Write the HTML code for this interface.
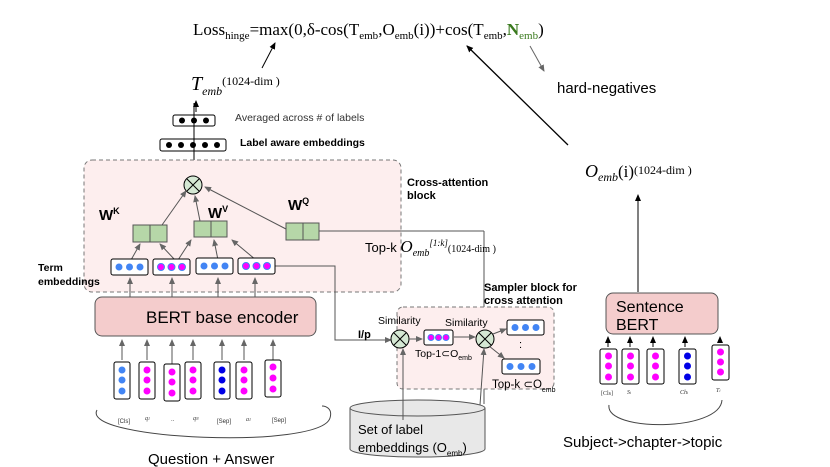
<!DOCTYPE html>
<html><head><meta charset="utf-8"><style>
body{margin:0;background:#fff}
svg{display:block;font-family:"Liberation Sans",sans-serif}
.s{font-family:"Liberation Serif",serif}
</style></head><body>
<svg width="830" height="467" viewBox="0 0 830 467">
<defs>
<marker id="a" markerWidth="8" markerHeight="8" refX="6" refY="3" orient="auto" markerUnits="userSpaceOnUse"><path d="M0,0 L7,3 L0,6z" fill="#000"/></marker>
<marker id="g" markerWidth="8" markerHeight="8" refX="6" refY="3" orient="auto" markerUnits="userSpaceOnUse"><path d="M0,0 L7,3 L0,6z" fill="#666"/></marker>
</defs>
<!-- Loss -->
<text class="s" x="193" y="35" font-size="17">Loss<tspan font-size="11" dy="4">hinge</tspan><tspan dy="-4">=max(0,δ-cos(T</tspan><tspan font-size="11" dy="4">emb</tspan><tspan dy="-4">,O</tspan><tspan font-size="11" dy="4">emb</tspan><tspan dy="-4">(i))+cos(T</tspan><tspan font-size="11" dy="4">emb</tspan><tspan dy="-4">,</tspan><tspan fill="#3a7a1e" font-weight="bold">N</tspan><tspan fill="#3a7a1e" font-size="11" dy="4">emb</tspan><tspan dy="-4">)</tspan></text>
<text class="s" x="191" y="90" font-size="20" font-style="italic">T<tspan font-size="12" dy="5">emb</tspan><tspan font-style="normal" font-size="12" dy="-10">(1024-dim )</tspan></text>
<line x1="262" y1="68" x2="275" y2="43" stroke="#000" marker-end="url(#a)"/>
<line x1="196" y1="112" x2="196" y2="101" stroke="#000" marker-end="url(#a)"/>
<line x1="545" y1="44" x2="543" y2="44" stroke="none"/>
<line x1="530" y1="46" x2="544" y2="71" stroke="#666" marker-end="url(#g)"/>
<text x="557" y="93" font-size="15">hard-negatives</text>
<line x1="568" y1="145" x2="467" y2="46" stroke="#000" stroke-width="1.3" marker-end="url(#a)"/>
<text class="s" x="585" y="177" font-size="18" font-style="italic">O<tspan font-size="12" dy="4">emb</tspan><tspan font-style="normal" dy="-4" font-size="17">(i)</tspan><tspan font-style="normal" font-size="12" dy="-3">(1024-dim )</tspan></text>
<!-- top boxes -->
<rect x="173" y="115" width="42" height="11" rx="2" fill="#fff" stroke="#000"/>
<g fill="#000"><circle cx="182" cy="120.5" r="3"/><circle cx="194" cy="120.5" r="3"/><circle cx="206" cy="120.5" r="3"/></g>
<rect x="160" y="139" width="66" height="12" rx="2" fill="#fff" stroke="#000"/>
<g fill="#000"><circle cx="169" cy="145" r="3"/><circle cx="181" cy="145" r="3"/><circle cx="193" cy="145" r="3"/><circle cx="205" cy="145" r="3"/><circle cx="217" cy="145" r="3"/></g>
<line x1="194" y1="176" x2="194" y2="103" stroke="#000"/>
<text x="235" y="121" font-size="10.5" fill="#333">Averaged across # of labels</text>
<text x="240" y="146" font-size="10.5" font-weight="bold">Label aware embeddings</text>
<!-- cross-attention block -->
<rect x="84" y="160" width="317" height="132" rx="8" fill="#fdeeee" stroke="#777" stroke-dasharray="4,3"/>
<text x="407" y="186" font-size="11" font-weight="bold">Cross-attention</text>
<text x="407" y="199" font-size="11" font-weight="bold">block</text>
<circle cx="193" cy="185" r="9" fill="#d5e8d4" stroke="#000"/>
<path d="M187,179 L199,191 M199,179 L187,191" stroke="#000"/>
<text x="99" y="220" font-size="15" font-weight="bold">W<tspan font-size="9" dy="-6">K</tspan></text>
<text x="208" y="218" font-size="15" font-weight="bold">W<tspan font-size="9" dy="-6">V</tspan></text>
<text x="288" y="210" font-size="15" font-weight="bold">W<tspan font-size="9" dy="-6">Q</tspan></text>
<g fill="#b6d7a8" stroke="#555">
<rect x="133" y="225" width="17" height="17"/><rect x="150" y="225" width="17" height="17"/>
<rect x="194" y="221" width="17" height="16"/><rect x="211" y="221" width="16" height="16"/>
<rect x="286" y="223" width="17" height="17"/><rect x="303" y="223" width="16" height="17"/>
</g>
<g stroke="#555" fill="none">
<line x1="162" y1="225" x2="186" y2="191" marker-end="url(#g)"/>
<line x1="200" y1="221" x2="195" y2="196" marker-end="url(#g)"/>
<line x1="286" y1="229" x2="205" y2="187" marker-end="url(#g)"/>
<line x1="131" y1="260" x2="140" y2="244" marker-end="url(#g)"/>
<line x1="175" y1="260" x2="160" y2="244" marker-end="url(#g)"/>
<line x1="178" y1="260" x2="191" y2="240" marker-end="url(#g)"/>
<line x1="218" y1="260" x2="214" y2="240" marker-end="url(#g)"/>
<line x1="256" y1="260" x2="232" y2="240" marker-end="url(#g)"/>
<line x1="319" y1="231" x2="484" y2="231"/>
<line x1="484" y1="231" x2="484" y2="404"/>
<path d="M275,266 L335,266 L335,340 L391,340" marker-end="url(#g)"/>
<line x1="130" y1="297" x2="130" y2="278" marker-end="url(#g)"/>
<line x1="172" y1="297" x2="172" y2="278" marker-end="url(#g)"/>
<line x1="218" y1="297" x2="218" y2="278" marker-end="url(#g)"/>
<line x1="255" y1="297" x2="255" y2="278" marker-end="url(#g)"/>
</g>
<text x="365" y="252" font-size="13">Top-k <tspan class="s" font-style="italic" font-size="17">O</tspan><tspan class="s" font-style="italic" font-size="10" dy="4">emb</tspan><tspan class="s" font-style="italic" font-size="9" dy="-10">[1:k]</tspan><tspan class="s" font-size="10" dy="6">(1024-dim )</tspan></text>
<!-- term embeddings -->
<g fill="#fff" stroke="#000">
<rect x="111" y="259" width="37" height="16" rx="2"/><rect x="153" y="259" width="37" height="16" rx="2"/>
<rect x="196" y="258" width="37" height="16" rx="2"/><rect x="238" y="258" width="37" height="16" rx="2"/>
</g>
<g fill="#4285f4"><circle cx="119" cy="267" r="3.5"/><circle cx="129.5" cy="267" r="3.5"/><circle cx="140" cy="267" r="3.5"/>
<circle cx="204" cy="266" r="3.5"/><circle cx="214.5" cy="266" r="3.5"/><circle cx="225" cy="266" r="3.5"/></g>
<g fill="#ff00ff" stroke="#4285f4"><circle cx="161" cy="267" r="3.5"/><circle cx="171.5" cy="267" r="3.5"/><circle cx="182" cy="267" r="3.5"/>
<circle cx="246" cy="266" r="3.5"/><circle cx="256.5" cy="266" r="3.5"/><circle cx="267" cy="266" r="3.5"/></g>
<text x="38" y="271" font-size="10.5" font-weight="bold">Term</text>
<text x="38" y="285" font-size="10.5" font-weight="bold">embeddings</text>
<!-- BERT -->
<rect x="95" y="297" width="221" height="39" rx="7" fill="#f4cccc" stroke="#555"/>
<text x="146" y="323" font-size="17">BERT base encoder</text>
<g stroke="#555"><line x1="122" y1="360" x2="122" y2="340" marker-end="url(#g)"/><line x1="147" y1="360" x2="147" y2="340" marker-end="url(#g)"/><line x1="172" y1="380" x2="172" y2="340" marker-end="url(#g)"/><line x1="193" y1="360" x2="193" y2="340" marker-end="url(#g)"/><line x1="222" y1="360" x2="222" y2="340" marker-end="url(#g)"/><line x1="244" y1="360" x2="244" y2="340" marker-end="url(#g)"/><line x1="273" y1="360" x2="273" y2="340" marker-end="url(#g)"/></g>
<g fill="#fff" stroke="#000">
<rect x="114" y="362" width="16" height="37" rx="2"/><rect x="139" y="362" width="16" height="37" rx="2"/><rect x="164" y="364" width="16" height="37" rx="2"/><rect x="185" y="362" width="16" height="37" rx="2"/><rect x="214" y="362" width="16" height="37" rx="2"/><rect x="236" y="362" width="16" height="37" rx="2"/><rect x="265" y="360" width="16" height="37" rx="2"/>
</g>
<g>
<circle cx="122" cy="370" r="3.5" fill="#4285f4"/><circle cx="122" cy="380" r="3.5" fill="#4285f4"/><circle cx="122" cy="391" r="3.5" fill="#4285f4"/>
<circle cx="147" cy="370" r="3.5" fill="#f0f"/><circle cx="147" cy="380" r="3.5" fill="#f0f"/><circle cx="147" cy="391" r="3.5" fill="#f0f"/>
<circle cx="172" cy="372" r="3.5" fill="#f0f"/><circle cx="172" cy="382" r="3.5" fill="#f0f"/><circle cx="172" cy="393" r="3.5" fill="#f0f"/>
<circle cx="193" cy="370" r="3.5" fill="#f0f"/><circle cx="193" cy="380" r="3.5" fill="#f0f"/><circle cx="193" cy="391" r="3.5" fill="#f0f"/>
<circle cx="222" cy="370" r="3.5" fill="#0000e6"/><circle cx="222" cy="380" r="3.5" fill="#0000e6"/><circle cx="222" cy="391" r="3.5" fill="#0000e6"/>
<circle cx="244" cy="370" r="3.5" fill="#f0f"/><circle cx="244" cy="380" r="3.5" fill="#f0f"/><circle cx="244" cy="391" r="3.5" fill="#f0f"/>
<circle cx="273" cy="367" r="3.5" fill="#f0f"/><circle cx="273" cy="378" r="3.5" fill="#f0f"/><circle cx="273" cy="389" r="3.5" fill="#f0f"/>
</g>
<g font-size="6" fill="#333"><text x="118" y="423">[Cls]</text><text x="145" y="420" class="s" font-style="italic">q<tspan font-size="4">1</tspan></text><text x="171" y="421">..</text><text x="193" y="420" class="s" font-style="italic">q<tspan font-size="4">N</tspan></text><text x="217" y="423">[Sep]</text><text x="246" y="421" class="s" font-style="italic">a<tspan font-size="4">1</tspan></text><text x="272" y="422">[Sep]</text></g>
<path d="M97,410 C80,440 320,450 330,418 C333,408 325,406 322,406" fill="none" stroke="#444"/>
<text x="148" y="464" font-size="15">Question + Answer</text>
<!-- Sampler -->
<rect x="397" y="307" width="157" height="82" rx="6" fill="#fdeeee" stroke="#777" stroke-dasharray="4,3"/>
<text x="484" y="291" font-size="11" font-weight="bold">Sampler block for</text>
<text x="484" y="304" font-size="11" font-weight="bold">cross attention</text>
<text x="358" y="338" font-size="11" font-weight="bold">I/p</text>
<text x="378" y="324" font-size="10.5">Similarity</text>
<text x="445" y="326" font-size="10.5">Similarity</text>
<circle cx="400" cy="339" r="9" fill="#d5e8d4" stroke="#000"/>
<path d="M394,333 L406,345 M406,333 L394,345" stroke="#000"/>
<circle cx="485" cy="339" r="9" fill="#d5e8d4" stroke="#000"/>
<path d="M479,333 L491,345 M491,333 L479,345" stroke="#000"/>
<g stroke="#555"><line x1="409" y1="339" x2="422" y2="339" marker-end="url(#g)"/><line x1="454" y1="337" x2="475" y2="337" marker-end="url(#g)"/><line x1="493" y1="334" x2="506" y2="329" marker-end="url(#g)"/><line x1="489" y1="346" x2="504" y2="358" marker-end="url(#g)"/>
<line x1="403" y1="405" x2="403" y2="349" marker-end="url(#g)"/><line x1="480" y1="405" x2="484" y2="349" marker-end="url(#g)"/></g>
<rect x="424" y="330" width="29" height="15" rx="2" fill="#fff" stroke="#000"/>
<g fill="#f0f" stroke="#4285f4"><circle cx="431" cy="337.5" r="3"/><circle cx="438.5" cy="337.5" r="3"/><circle cx="446" cy="337.5" r="3"/></g>
<text x="415" y="357" font-size="10.5">Top-1⊂O<tspan font-size="7" dy="3">emb</tspan></text>
<rect x="507" y="320" width="37" height="15" rx="2" fill="#fff" stroke="#000"/>
<g fill="#4285f4"><circle cx="515" cy="327.5" r="3.5"/><circle cx="525.5" cy="327.5" r="3.5"/><circle cx="536" cy="327.5" r="3.5"/></g>
<text x="519" y="348" font-size="11">:</text>
<rect x="502" y="359" width="38" height="15" rx="2" fill="#fff" stroke="#000"/>
<g fill="#4285f4"><circle cx="510" cy="366.5" r="3.5"/><circle cx="521" cy="366.5" r="3.5"/><circle cx="532" cy="366.5" r="3.5"/></g>
<text x="492" y="388" font-size="11.5">Top-k ⊂O<tspan font-size="7" dy="4">emb</tspan></text>
<!-- cylinder -->
<path d="M350,408 L350,449 A67,8 0 0 0 485,449 L485,408" fill="#e8e8e8" stroke="#555"/>
<ellipse cx="417.5" cy="408" rx="67.5" ry="8" fill="#e8e8e8" stroke="#555"/>
<line x1="403" y1="400" x2="403" y2="420" stroke="#555"/>
<text x="358" y="434" font-size="13">Set of label</text>
<text x="358" y="452" font-size="13">embeddings (O<tspan font-size="8" dy="4">emb</tspan><tspan dy="-4">)</tspan></text>
<!-- right side -->
<line x1="638" y1="292" x2="638" y2="195" stroke="#000" marker-end="url(#a)"/>
<rect x="606" y="293" width="112" height="41" rx="7" fill="#f4cccc" stroke="#555"/>
<text x="616" y="312" font-size="16">Sentence</text>
<text x="616" y="330" font-size="16">BERT</text>
<g stroke="#000"><line x1="608" y1="347" x2="608" y2="337" marker-end="url(#a)"/><line x1="630" y1="347" x2="630" y2="337" marker-end="url(#a)"/><line x1="653" y1="347" x2="653" y2="337" marker-end="url(#a)"/><line x1="685" y1="347" x2="685" y2="337" marker-end="url(#a)"/><line x1="720" y1="343" x2="720" y2="337" marker-end="url(#a)"/></g>
<g fill="#fff" stroke="#000"><rect x="600" y="349" width="17" height="35" rx="2"/><rect x="622" y="349" width="17" height="35" rx="2"/><rect x="647" y="349" width="17" height="35" rx="2"/><rect x="679" y="349" width="17" height="35" rx="2"/><rect x="712" y="345" width="17" height="35" rx="2"/></g>
<g>
<circle cx="608.5" cy="356" r="3.5" fill="#f0f"/><circle cx="608.5" cy="366" r="3.5" fill="#f0f"/><circle cx="608.5" cy="377" r="3.5" fill="#f0f"/>
<circle cx="630.5" cy="356" r="3.5" fill="#f0f"/><circle cx="630.5" cy="366" r="3.5" fill="#f0f"/><circle cx="630.5" cy="377" r="3.5" fill="#f0f"/>
<circle cx="655.5" cy="356" r="3.5" fill="#f0f"/><circle cx="655.5" cy="366" r="3.5" fill="#f0f"/><circle cx="655.5" cy="377" r="3.5" fill="#f0f"/>
<circle cx="687.5" cy="356" r="3.5" fill="#0000e6"/><circle cx="687.5" cy="366" r="3.5" fill="#0000e6"/><circle cx="687.5" cy="377" r="3.5" fill="#0000e6"/>
<circle cx="720.5" cy="352" r="3.5" fill="#f0f"/><circle cx="720.5" cy="362" r="3.5" fill="#f0f"/><circle cx="720.5" cy="372" r="3.5" fill="#f0f"/>
</g>
<g font-size="6" fill="#333" class="s"><text x="601" y="395">[Cls]</text><text x="627" y="394" font-style="italic">S<tspan font-size="4">i</tspan></text><text x="680" y="394" font-style="italic">Ch<tspan font-size="4">i</tspan></text><text x="716" y="392" font-style="italic">T<tspan font-size="4">i</tspan></text></g>
<path d="M609,405 C605,432 720,432 722,400" fill="none" stroke="#444"/>
<text x="563" y="447" font-size="15">Subject-&gt;chapter-&gt;topic</text>
</svg>
</body></html>
